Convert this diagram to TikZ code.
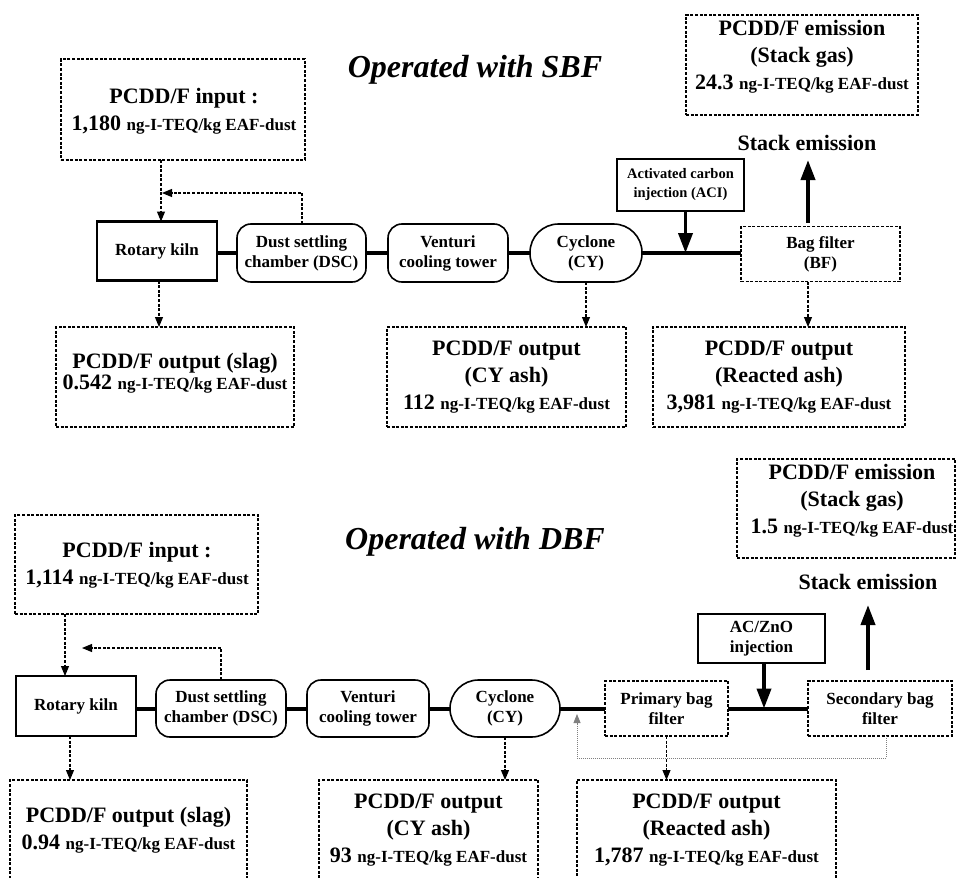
\documentclass[tikz,border=0pt]{standalone}
\usepackage{fontspec}
\setmainfont{Liberation Serif}
\usetikzlibrary{arrows.meta}
\newcommand{\ngunit}{{\fontsize{17bp}{27bp}\selectfont ng-I-TEQ/kg EAF-dust}}
\begin{document}
\begin{tikzpicture}[x=1bp,y=-1bp,
  every node/.style={inner sep=0pt, outer sep=0pt},
  dbox/.style={draw, line width=1.1bp, dash pattern=on 3bp off 1.6bp},
  info/.style={align=center, font=\bfseries\fontsize{22bp}{27bp}\selectfont},
  proc/.style={draw, line width=1.6bp, rounded corners=14bp, align=center,
    font=\bfseries\fontsize{17bp}{20bp}\selectfont},
  stadium/.style={draw, line width=1.6bp, rounded corners=28.5bp, align=center,
    font=\bfseries\fontsize{17bp}{20bp}\selectfont},
  kilnbox/.style={draw, line width=2.8bp, align=center,
    font=\bfseries\fontsize{17bp}{20bp}\selectfont},
  filt/.style={dbox, align=center, font=\bfseries\fontsize{17bp}{20bp}\selectfont},
  inj/.style={draw, line width=2.6bp, align=center,
    font=\bfseries\fontsize{14.5bp}{19bp}\selectfont},
  conn/.style={line width=4bp},
  bigarr/.style={line width=3.8bp, -{Triangle[length=20bp,width=14bp]}},
  darr/.style={line width=1.1bp, dash pattern=on 3bp off 1.6bp, -{Triangle[length=10bp,width=8bp]}},
  recarr/.style={line width=0.8bp, gray, dash pattern=on 1bp off 1bp, -{Triangle[length=9bp,width=7bp]}},
  title/.style={font=\bfseries\itshape\fontsize{32bp}{36bp}\selectfont}
]
\useasboundingbox (0,0) rectangle (958,878);
\clip (0,0) rectangle (958,878);

% ================= TOP: SBF =================
\node[title] (t1) at (475,70) {Operated with SBF};

\node[dbox, minimum width=244bp, minimum height=101bp] (in1) at (183,109.5) {};
\node[info] (in1t) at (184,111) {PCDD/F input :\\1,180 \ngunit};

\node[dbox, minimum width=232bp, minimum height=100bp] (em1) at (802,65) {};
\node[info] (em1t) at (802,57) {PCDD/F emission\\(Stack gas)\\24.3 \ngunit};

\node[font=\bfseries\fontsize{22bp}{27bp}\selectfont] (st1) at (807,143) {Stack emission};

\node[kilnbox, minimum width=120bp, minimum height=59bp] (kiln1) at (157,251) {Rotary kiln};
\node[proc, minimum width=129bp, minimum height=58bp] (dsc1) at (301.5,253) {Dust settling\\chamber (DSC)};
\node[proc, minimum width=120bp, minimum height=58bp] (ven1) at (448,253) {Venturi\\cooling tower};
\node[stadium, minimum width=112bp, minimum height=58bp] (cy1) at (586,253) {Cyclone\\(CY)};
\node[filt, minimum width=159bp, minimum height=55bp] (bf1) at (820.5,254) {Bag filter\\(BF)};
\node[inj, minimum width=127bp, minimum height=52bp] (aci1) at (680.5,185) {Activated carbon\\injection (ACI)};

\node[dbox, minimum width=238bp, minimum height=100bp] (slag1) at (175,377) {};
\node[info, font=\bfseries\fontsize{22bp}{18.5bp}\selectfont] (slag1t) at (175,373) {PCDD/F output (slag)\\0.542 \ngunit};
\node[dbox, minimum width=239bp, minimum height=100bp] (cya1) at (506.5,377) {};
\node[info] (cya1t) at (506.5,377) {PCDD/F output\\(CY ash)\\112 \ngunit};
\node[dbox, minimum width=252bp, minimum height=100bp] (rea1) at (779,377) {};
\node[info] (rea1t) at (779,377) {PCDD/F output\\(Reacted ash)\\3,981 \ngunit};

\coordinate (fb1) at (162,193);
\coordinate (up1) at (808,160);

\draw[conn] (kiln1.east |- dsc1.west) -- (dsc1.west);
\draw[conn] (dsc1.east) -- (ven1.west);
\draw[conn] (ven1.east) -- (cy1.west);
\draw[conn] (cy1.east) -- (bf1.west |- cy1.east);
\draw[bigarr] ([xshift=5bp]aci1.south) -- ([xshift=5bp]aci1.south |- cy1.east);
\draw[bigarr, shorten <=4bp] (bf1.north -| up1) -- (up1);

\draw[darr] ([xshift=4bp]kiln1.north |- in1.south) -- ([xshift=4bp]kiln1.north);
\draw[darr] ([xshift=0.5bp]dsc1.north) |- (fb1);
\draw[darr] ([xshift=2bp]kiln1.south) -- ([xshift=2bp]kiln1.south |- slag1.north);
\draw[darr] (cy1.south) -- (cy1.south |- cya1.north);
\draw[darr] (bf1.south -| up1) -- (up1 |- rea1.north);

% ================= BOTTOM: DBF =================
\node[title] (t2) at (475,542) {Operated with DBF};

\node[dbox, minimum width=243bp, minimum height=99bp] (in2) at (136.5,564.5) {};
\node[info] (in2t) at (137,565) {PCDD/F input :\\1,114 \ngunit};

\node[dbox, minimum width=218bp, minimum height=99bp] (em2) at (846,508.5) {};
\node[info] (em2t) at (852,501) {PCDD/F emission\\(Stack gas)\\1.5 \ngunit};

\node[font=\bfseries\fontsize{22bp}{27bp}\selectfont] (st2) at (868,582) {Stack emission};

\node[kilnbox, minimum width=120bp, minimum height=60bp] (kiln2) at (76,706) {Rotary kiln};
\node[proc, minimum width=130bp, minimum height=57bp] (dsc2) at (221,708.5) {Dust settling\\chamber (DSC)};
\node[proc, minimum width=122bp, minimum height=57bp] (ven2) at (368,708.5) {Venturi\\cooling tower};
\node[stadium, minimum width=110bp, minimum height=57bp] (cy2) at (505,708.5) {Cyclone\\(CY)};
\node[filt, minimum width=123bp, minimum height=55bp] (pbf2) at (666.5,708.5) {Primary bag\\filter};
\node[filt, minimum width=144bp, minimum height=55bp] (sbf2) at (880,708.5) {Secondary bag\\filter};
\node[inj, font=\bfseries\fontsize{17bp}{19.5bp}\selectfont, minimum width=127bp, minimum height=49bp] (acz2) at (761.5,638.5) {AC/ZnO\\injection};

\node[dbox, minimum width=237bp, minimum height=120bp] (slag2) at (128.5,840) {};
\node[info] (slag2t) at (128.5,830) {PCDD/F output (slag)\\0.94 \ngunit};
\node[dbox, minimum width=219bp, minimum height=120bp] (cya2) at (428.5,840) {};
\node[info] (cya2t) at (428.5,830) {PCDD/F output\\(CY ash)\\93 \ngunit};
\node[dbox, minimum width=259bp, minimum height=120bp] (rea2) at (706.5,840) {};
\node[info] (rea2t) at (706.5,830) {PCDD/F output\\(Reacted ash)\\1,787 \ngunit};

\coordinate (fb2) at (82,648);
\coordinate (up2) at (868,605);
\coordinate (rcl) at (577,758);
\coordinate (rce) at (577,714);

\draw[conn] (kiln2.east |- dsc2.west) -- (dsc2.west);
\draw[conn] (dsc2.east) -- (ven2.west);
\draw[conn] (ven2.east) -- (cy2.west);
\draw[conn] (cy2.east) -- (pbf2.west);
\draw[conn] (pbf2.east) -- (sbf2.west);
\draw[bigarr] ([xshift=2.5bp]acz2.south) -- ([xshift=2.5bp]acz2.south |- pbf2.east);
\draw[bigarr, shorten <=11bp] (sbf2.north -| up2) -- (up2);

\draw[darr] ([xshift=-11bp]kiln2.north |- in2.south) -- ([xshift=-11bp]kiln2.north);
\draw[darr] (dsc2.north) |- (fb2);
\draw[darr] ([xshift=-6bp]kiln2.south) -- ([xshift=-6bp]kiln2.south |- slag2.north);
\draw[darr] (cy2.south) -- (cy2.south |- cya2.north);
\draw[darr] (pbf2.south) -- (pbf2.south |- rea2.north);
\draw[recarr] ([xshift=6bp]sbf2.south) |- (rcl) -- (rce);

\end{tikzpicture}
\end{document}
